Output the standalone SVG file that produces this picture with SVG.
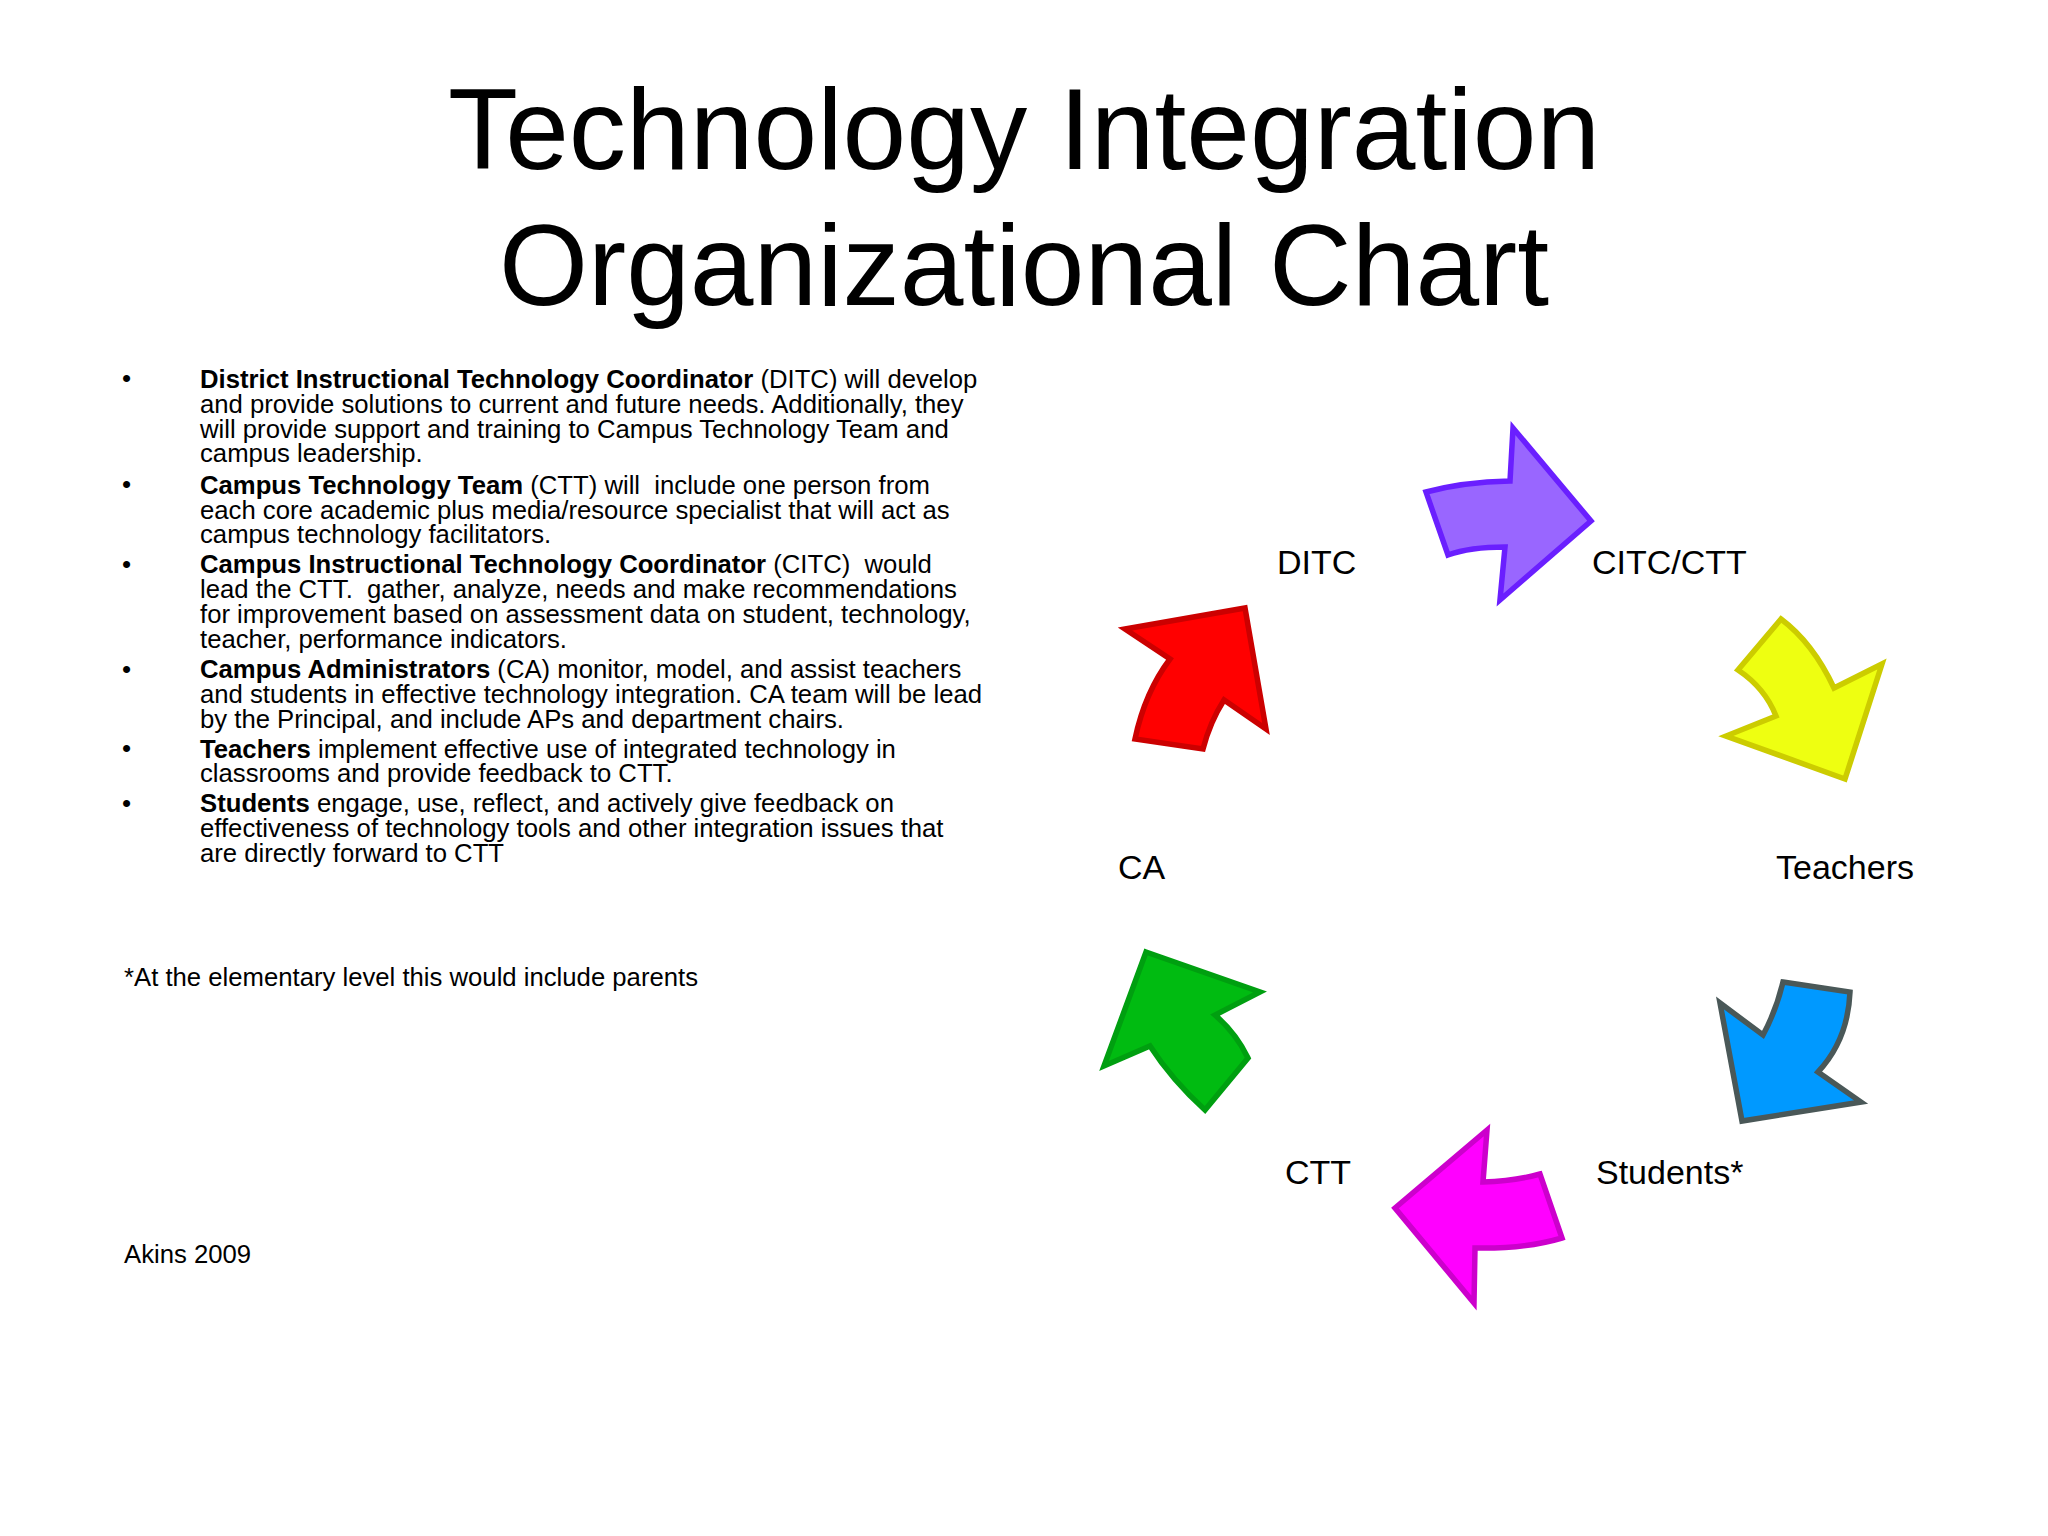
<svg xmlns="http://www.w3.org/2000/svg" width="2048" height="1536" viewBox="0 0 2048 1536">
<style>
text{font-family:"Liberation Sans",Arial,sans-serif;fill:#000}
.title{font-size:114.5px;text-anchor:middle}
.body{font-size:25.7px}
.b{font-weight:bold}
.bul{font-size:26px}
.lbl{font-size:34px}
.arr{stroke-width:5.5;stroke-linejoin:miter}
</style>
<rect width="2048" height="1536" fill="#fff"/>
<g id="title">
<text class="title" x="1024" y="169">Technology Integration</text>
<text class="title" x="1024" y="305">Organizational Chart</text>
</g>
<g id="description" class="body">
<text class="bul" x="122" y="387">•</text>
<text class="bul" x="122" y="493">•</text>
<text class="bul" x="122" y="573">•</text>
<text class="bul" x="122" y="678">•</text>
<text class="bul" x="122" y="757">•</text>
<text class="bul" x="122" y="812">•</text>
<text class="body" xml:space="preserve"><tspan x="200" y="388"><tspan class="b">District Instructional Technology Coordinator</tspan> (DITC) will develop</tspan><tspan x="200" y="412.8">and provide solutions to current and future needs. Additionally, they</tspan><tspan x="200" y="437.6">will provide support and training to Campus Technology Team and</tspan><tspan x="200" y="462.4">campus leadership.</tspan></text>
<text class="body" xml:space="preserve"><tspan x="200" y="493.7"><tspan class="b">Campus Technology Team</tspan> (CTT) will  include one person from</tspan><tspan x="200" y="518.5">each core academic plus media/resource specialist that will act as</tspan><tspan x="200" y="543.3">campus technology facilitators.</tspan></text>
<text class="body" xml:space="preserve"><tspan x="200" y="573.4"><tspan class="b">Campus Instructional Technology Coordinator</tspan> (CITC)  would</tspan><tspan x="200" y="598.2">lead the CTT.  gather, analyze, needs and make recommendations</tspan><tspan x="200" y="623">for improvement based on assessment data on student, technology,</tspan><tspan x="200" y="647.8">teacher, performance indicators.</tspan></text>
<text class="body" xml:space="preserve"><tspan x="200" y="677.9"><tspan class="b">Campus Administrators</tspan> (CA) monitor, model, and assist teachers</tspan><tspan x="200" y="702.7">and students in effective technology integration. CA team will be lead</tspan><tspan x="200" y="727.5">by the Principal, and include APs and department chairs.</tspan></text>
<text class="body" xml:space="preserve"><tspan x="200" y="757.5"><tspan class="b">Teachers</tspan> implement effective use of integrated technology in</tspan><tspan x="200" y="782.3">classrooms and provide feedback to CTT.</tspan></text>
<text class="body" xml:space="preserve"><tspan x="200" y="812.4"><tspan class="b">Students</tspan> engage, use, reflect, and actively give feedback on</tspan><tspan x="200" y="837.2">effectiveness of technology tools and other integration issues that</tspan><tspan x="200" y="862">are directly forward to CTT</tspan></text>
<text class="body" x="124" y="986">*At the elementary level this would include parents</text>
<text class="body" x="124" y="1263">Akins 2009</text>
</g>
<g id="node-ditc"><text class="lbl" x="1277" y="574">DITC</text></g>
<g id="node-citc"><text class="lbl" x="1592" y="574">CITC/CTT</text></g>
<g id="node-teachers"><text class="lbl" x="1776" y="879">Teachers</text></g>
<g id="node-students"><text class="lbl" x="1596" y="1184">Students*</text></g>
<g id="node-ctt"><text class="lbl" x="1285" y="1184">CTT</text></g>
<g id="node-ca"><text class="lbl" x="1118" y="879">CA</text></g>
<g id="connectors" class="arr">
<path id="arrow-ditc-citc" fill="#9966ff" stroke="#6a1fff" d="M1426,492 Q1463,482 1510,481 L1513,428 L1591,521 L1500,600 L1505,547 Q1470,547 1448,555 Z"/>
<path id="arrow-citc-teachers" fill="#eeff11" stroke="#cccc00" d="M1781,619 Q1813,643 1834,688 L1882,664 L1845,779 L1726,736 L1776,716 Q1765,688 1738,670 Z"/>
<path id="arrow-teachers-students" fill="#0099ff" stroke="#4a5858" d="M1783,982 L1850,992 Q1848,1040 1818,1072 L1861,1102 L1742,1121 L1720,1003 L1763,1035 Q1776,1011 1783,982 Z"/>
<path id="arrow-students-ctt" fill="#ff00ff" stroke="#cc00cc" d="M1487,1130 L1483,1182 Q1515,1181 1540,1174 L1562,1238 Q1525,1249 1475,1248 L1474,1303 L1395,1208 Z"/>
<path id="arrow-ctt-ca" fill="#00bb11" stroke="#009f10" d="M1146,952 L1260,992 L1215,1015 Q1236,1033 1248,1058 L1205,1110 Q1172,1080 1150,1046 L1104,1066 Z"/>
<path id="arrow-ca-ditc" fill="#ff0000" stroke="#cc0000" d="M1125,629 L1245,608 L1266,729 L1224,700 Q1210,722 1203,749 L1135,739 Q1145,692 1170,659 Z"/>
</g>
</svg>
